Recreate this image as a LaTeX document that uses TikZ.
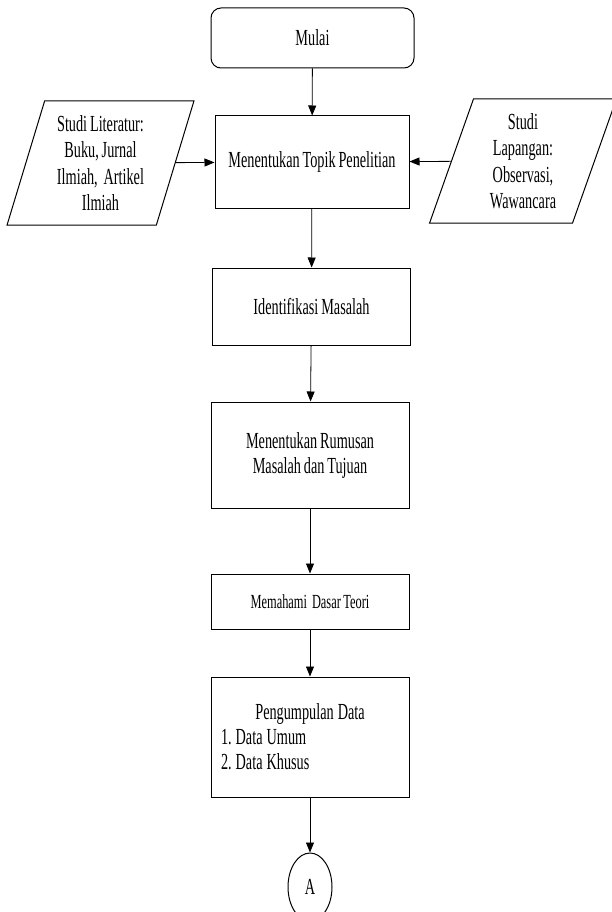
\documentclass[tikz,border=0pt]{standalone}
\usepackage{fontspec}
\setmainfont{Liberation Serif}[FakeStretch=0.62,WordSpace=0.8]
\usetikzlibrary{shapes.geometric,arrows.meta}

\begin{document}
\begin{tikzpicture}[x=1pt,y=-1pt,font=\fontsize{23}{25}\selectfont,
    box/.style={draw,line width=1pt,rectangle,minimum width=198pt,inner sep=0pt,align=center},
    io/.style={draw,line width=1pt,trapezium,trapezium left angle=73,trapezium right angle=107,
      trapezium stretches=true,minimum width=187pt,minimum height=124pt,inner sep=0pt,align=center,
      font=\fontsize{23}{26.5}\selectfont},
    arr/.style={line width=0.8pt,-{Triangle[length=10pt,width=8pt]}}]
      \useasboundingbox (0,0) rectangle (611,912);
      \node[draw,line width=1pt,rounded corners=10pt,minimum width=203pt,minimum height=60pt] (mulai) at (312.5,38) {Mulai};
      \node[box,minimum width=194pt,minimum height=92pt] (topik) at (312,162) {Menentukan Topik Penelitian};
      \node[io] (literatur) at (100.5,163) {Studi Literatur:\\Buku, Jurnal\\Ilmiah,\hspace{3pt} Artikel\\Ilmiah};
      \node[io] (lapangan) at (523,161) {Studi\\Lapangan:\\Observasi,\\Wawancara};
      \node[box,minimum height=77pt] (identifikasi) at (311.5,306.5) {Identifikasi Masalah};
      \node[box,minimum height=106pt] (rumusan) at (310,455) {Menentukan Rumusan\\Masalah dan Tujuan};
      \node[box,minimum height=55pt,font=\fontsize{20}{22}\selectfont] (teori) at (310,601.5) {Memahami\ \ Dasar Teori};
      \node[box,minimum height=120pt,text width=178pt,inner xsep=10pt,align=left] (data) at (310,737)
        {\spaceskip=4pt\relax\xspaceskip=4pt\relax
         \makebox[\linewidth]{Pengumpulan Data}\\1. Data Umum\\2. Data Khusus};
      \node[draw,line width=1pt,ellipse,minimum width=44pt,minimum height=68pt,inner sep=0pt] (a) at (310,887) {A};
      \draw[arr] (mulai) -- (topik);
      \draw[arr] (literatur) -- (topik);
      \draw[arr] (lapangan) -- (topik);
      \draw[arr] (topik) -- (identifikasi);
      \draw[arr] (identifikasi) -- (rumusan);
      \draw[arr] (rumusan) -- (teori);
      \draw[arr] (teori) -- (data);
      \draw[arr] (data) -- (a);
    \end{tikzpicture}
\end{document}
